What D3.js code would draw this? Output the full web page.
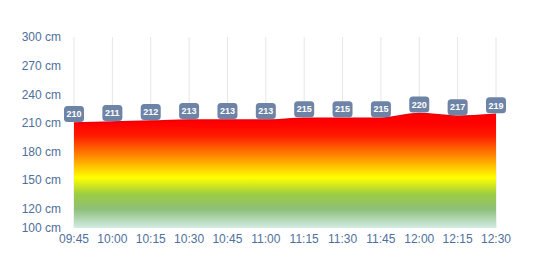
<!DOCTYPE html>
<html><head><meta charset="utf-8">
<script src="https://cdn.jsdelivr.net/npm/d3@7"></script>
<style>body{margin:0;background:#fff}svg{display:block}text{font-family:"Liberation Sans",Arial,sans-serif}</style>
</head><body>
<svg id="c" width="543" height="260"></svg>
<script>
const times = ["09:45","10:00","10:15","10:30","10:45","11:00","11:15","11:30","11:45","12:00","12:15","12:30"];
const levels = [210,211,212,213,213,213,215,215,215,220,217,219];
const yTicks = [100,120,150,180,210,240,270,300];

const svg = d3.select("#c");
const x = d3.scalePoint().domain(times).range([74,496]);
const y = d3.scaleLinear().domain([100,300]).range([228,37]);

// vertical grid
svg.append("g").selectAll("line").data(times).join("line")
  .attr("x1",d=>x(d)).attr("x2",d=>x(d)).attr("y1",37).attr("y2",228)
  .attr("stroke","#e6e6e6").attr("stroke-width",1);

// gradient
const defs = svg.append("defs");
const g = defs.append("linearGradient").attr("id","gr").attr("gradientUnits","userSpaceOnUse")
  .attr("x1",0).attr("x2",0).attr("y1",y(210)).attr("y2",y(100));
[[0,"#ff0000"],[0.12,"#ff1a00"],[0.32,"#ff8c00"],[0.52,"#ffff00"],[0.68,"#9ccc44"],[0.82,"#8dbf78"],[1,"#d2ece4"]]
 .forEach(([o,c])=>g.append("stop").attr("offset",o).attr("stop-color",c));

const data = times.map((t,i)=>({t,v:levels[i]}));
const area = d3.area().x(d=>x(d.t)).y0(y(100)).y1(d=>y(d.v)).curve(d3.curveMonotoneX);
svg.append("path").datum(data).attr("d",area).attr("fill","url(#gr)");
const line = d3.line().x(d=>x(d.t)).y(d=>y(d.v)).curve(d3.curveMonotoneX);
svg.append("path").datum(data).attr("d",line).attr("fill","none").attr("stroke","#e8000b").attr("stroke-width",1.5);

// y axis labels
svg.append("g").selectAll("text").data(yTicks).join("text")
  .attr("x",61).attr("y",d=>y(d)).attr("dy","0.35em").attr("text-anchor","end")
  .attr("font-size",12).attr("fill","#4f6f9c").text(d=>d+" cm");

// x axis labels
svg.append("g").selectAll("text").data(times).join("text")
  .attr("x",d=>x(d)).attr("y",243).attr("text-anchor","middle")
  .attr("font-size",12).attr("fill","#4f6f9c").text(d=>d);

// value labels
const lab = svg.append("g").selectAll("g").data(data).join("g")
  .attr("transform",d=>`translate(${x(d.t)},${y(d.v)})`);
lab.append("rect").attr("x",-10).attr("y",-17).attr("width",20).attr("height",16).attr("rx",3.5)
  .attr("fill","#6e84a6");
lab.append("text").attr("x",0).attr("y",-9).attr("dy","0.35em").attr("text-anchor","middle")
  .attr("font-size",9).attr("font-weight","bold").attr("fill","#fff").text(d=>d.v);
</script>
</body></html>
